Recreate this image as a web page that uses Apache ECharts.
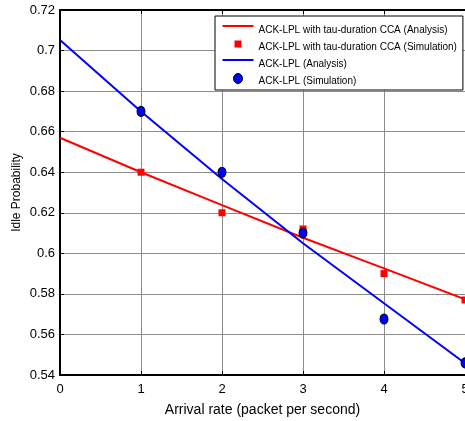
<!DOCTYPE html>
<html>
<head>
<meta charset="utf-8">
<script src="https://cdn.jsdelivr.net/npm/echarts@6/dist/echarts.min.js"></script>
<style>
  html, body { margin: 0; padding: 0; background: #fff; }
  #chart { width: 465px; height: 421px; }
</style>
</head>
<body>
<div id="chart"></div>
<script>
// Arrival rates (packets per second)
const analysisRates = [0, 1, 2, 3, 4, 5];
const simulationRates = [1, 2, 3, 4, 5];

// Idle probability, ACK-LPL with tau-duration CCA
const tauAnalysis = [0.657, 0.640, 0.6238, 0.6077, 0.5926, 0.5773];
const tauSimulation = [0.640, 0.620, 0.612, 0.590, 0.577];

// Idle probability, plain ACK-LPL
const lplAnalysis = [0.7052, 0.6699, 0.6367, 0.605, 0.5754, 0.5458];
const lplSimulation = [0.670, 0.640, 0.610, 0.5676, 0.546];

const seriesNames = [
  'ACK-LPL with tau-duration CCA (Analysis)',
  'ACK-LPL with tau-duration CCA (Simulation)',
  'ACK-LPL (Analysis)',
  'ACK-LPL (Simulation)'
];

const pairs = (xs, ys) => xs.map((x, i) => [x, ys[i]]);
const FONT = 'Liberation Sans, Arial, sans-serif';

const chart = echarts.init(document.getElementById('chart'), null, { renderer: 'canvas' });

// Legend glyphs sit a little above the text line; the leading moveTo points
// pin every icon's bounding box to the full 31x16 legend cell.
const lineIcon = 'path://M0 0M31 16M0 3L31 3L31 5L0 5Z';
const squareIcon = 'path://M0 0M31 16M12 1.5L19 1.5L19 8.5L12 8.5Z';
const circleIcon = 'path://M0 0M31 16M11 5A4.5 5 0 1 1 20 5A4.5 5 0 1 1 11 5Z';

chart.setOption({
  animation: false,
  backgroundColor: '#fff',
  grid: { left: 60, top: 10, right: 0, bottom: 46, outerBoundsMode: 'none' },
  legend: {
    orient: 'vertical',
    left: 215,
    top: 16,
    width: 240,
    padding: [6, 6, 0, 7],
    itemWidth: 31,
    itemHeight: 16,
    itemGap: 1,
    borderColor: '#000',
    borderWidth: 1,
    backgroundColor: '#fff',
    selectedMode: false,
    textStyle: { fontFamily: FONT, fontSize: 10, color: '#000' },
    data: [
      { name: seriesNames[0], icon: lineIcon, itemStyle: { color: '#ff0000', borderWidth: 0 } },
      { name: seriesNames[1], icon: squareIcon, itemStyle: { color: '#ff0000', borderWidth: 0 } },
      { name: seriesNames[2], icon: lineIcon, itemStyle: { color: '#0000ff', borderWidth: 0 } },
      { name: seriesNames[3], icon: circleIcon, itemStyle: { color: '#0000ff', borderColor: '#000', borderWidth: 1 } }
    ]
  },
  xAxis: [
    {
      type: 'value',
      min: 0, max: 5, interval: 1,
      name: 'Arrival rate (packet per second)',
      nameLocation: 'middle',
      nameGap: 28,
      nameTextStyle: { fontFamily: FONT, fontSize: 14, color: '#000' },
      axisLine: { show: true, onZero: false, lineStyle: { color: '#000', width: 2 } },
      axisTick: { show: true, inside: true, length: 4, lineStyle: { color: '#000' } },
      axisLabel: { fontFamily: FONT, fontSize: 13, color: '#000', margin: 8, showMaxLabel: true, alignMaxLabel: 'center' },
      splitLine: { show: true, lineStyle: { color: '#8c8c8c', width: 1 } }
    },
    {
      type: 'value',
      position: 'top',
      min: 0, max: 5, interval: 1,
      axisLine: { show: true, onZero: false, lineStyle: { color: '#000', width: 2 } },
      axisTick: { show: true, inside: true, length: 4, lineStyle: { color: '#000' } },
      axisLabel: { show: false },
      splitLine: { show: false }
    }
  ],
  yAxis: {
    type: 'value',
    min: 0.54, max: 0.72, interval: 0.02,
    name: 'Idle Probability',
    nameLocation: 'middle',
    nameGap: 37,
    nameMoveOverlap: false,
    nameTextStyle: { fontFamily: FONT, fontSize: 12, color: '#000' },
    axisLine: { show: true, onZero: false, lineStyle: { color: '#000', width: 2 } },
    axisTick: { show: true, inside: true, length: 4, lineStyle: { color: '#000' } },
    axisLabel: {
      fontFamily: FONT, fontSize: 13, color: '#000', margin: 5,
      formatter: v => String(parseFloat(v.toFixed(2)))
    },
    splitLine: { show: true, lineStyle: { color: '#8c8c8c', width: 1 } }
  },
  series: [
    {
      name: seriesNames[0],
      type: 'line',
      data: pairs(analysisRates, tauAnalysis),
      symbol: 'none',
      lineStyle: { color: '#ff0000', width: 2 },
      itemStyle: { color: '#ff0000' },
      z: 2
    },
    {
      name: seriesNames[1],
      type: 'scatter',
      data: pairs(simulationRates, tauSimulation),
      symbol: 'rect',
      symbolSize: 7,
      itemStyle: { color: '#ff0000', opacity: 1 },
      z: 3
    },
    {
      name: seriesNames[2],
      type: 'line',
      data: pairs(analysisRates, lplAnalysis),
      symbol: 'none',
      lineStyle: { color: '#0000ff', width: 2 },
      itemStyle: { color: '#0000ff' },
      z: 4
    },
    {
      name: seriesNames[3],
      type: 'scatter',
      data: pairs(simulationRates, lplSimulation),
      symbol: 'circle',
      symbolSize: [8, 10],
      itemStyle: { color: '#0000ff', borderColor: '#000', borderWidth: 1, opacity: 1 },
      z: 5
    }
  ]
});
</script>
</body>
</html>
